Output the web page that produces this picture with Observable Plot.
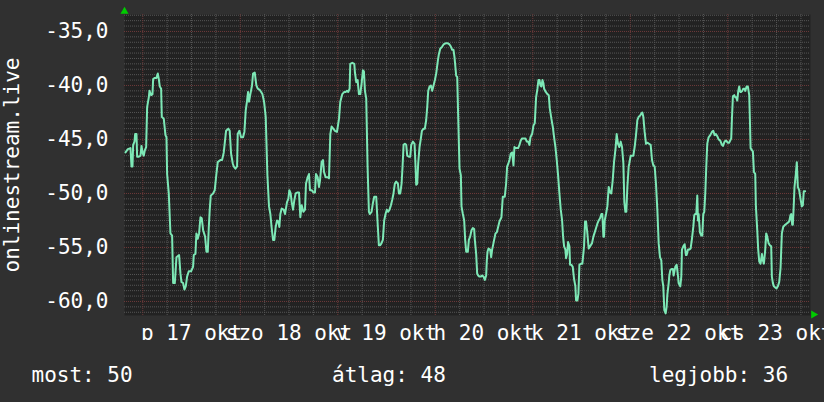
<!DOCTYPE html>
<html><head><meta charset="utf-8">
<script src="https://cdn.jsdelivr.net/npm/d3@7"></script>
<script src="https://cdn.jsdelivr.net/npm/@observablehq/plot@0.6"></script>
<style>
html,body{margin:0;padding:0;background:#303030;overflow:hidden;width:824px;height:402px}
#chart svg,#legend svg{display:block;overflow:hidden}
</style></head><body><div id="chart"></div><div id="legend"></div>
<script>
const yLabel = "onlinestream.live";
const dayTickHours = [12, 36, 60, 84, 108, 132, 156];
const dayTickLabels = ["p 17 okt", "szo 18 okt", "v 19 okt", "h 20 okt", "k 21 okt", "sze 22 okt", "cs 23 okt"];
const yTicks = [-60, -55, -50, -45, -40, -35];
const legendLabels = ["most", "átlag", "legjobb"];
const legendValues = [50, 48, 36];
// [hours since 17 okt 00:00, value]
const points = [
[-4.25,-46.2],[-3.68,-45.9],[-3.02,-45.8],[-2.78,-47.5],[-2.53,-47.5],[-2.37,-45.5],[-2.04,-45.2],[-1.88,-44.5],[-1.55,-44.5],[-1.39,-46.6],
[-0.98,-46.6],[-0.57,-46.5],[-0.32,-45.6],[0.01,-46.3],[0.25,-46.5],[0.5,-46.0],[0.83,-45.7],[1.07,-42.0],[1.48,-41.1],[1.65,-40.5],
[2.06,-40.9],[2.39,-40.8],[2.55,-39.4],[2.96,-39.3],[3.37,-39.3],[3.70,-38.9],[3.94,-39.4],[4.19,-40.1],[4.52,-40.3],[4.68,-42.9],
[5.17,-43.1],[5.58,-44.6],[5.83,-44.8],[5.99,-48.2],[6.40,-50.0],[6.81,-53.7],[7.22,-53.9],[7.47,-58.3],[7.88,-58.3],[8.04,-57.4],
[8.29,-55.9],[8.94,-55.7],[9.27,-57.4],[9.52,-58.2],[9.93,-58.3],[10.25,-58.9],[10.58,-58.6],[10.91,-57.7],[11.32,-57.2],[11.89,-57.2],
[12.38,-56.8],[12.55,-55.7],[12.96,-55.6],[13.20,-53.7],[13.53,-54.2],[13.86,-53.7],[14.19,-52.2],[14.52,-52.3],[14.85,-53.4],[15.34,-54.0],
[15.67,-55.4],[16.0,-55.4],[16.24,-53.2],[16.48,-51.5],[16.73,-50.2],[17.30,-50.0],[17.71,-49.7],[18.12,-48.2],[18.45,-47.1],[19.11,-46.9],
[19.52,-46.9],[19.93,-46.2],[20.5,-44.2],[21.07,-44.0],[21.4,-44.2],[21.73,-46.3],[22.14,-47.2],[22.39,-47.5],[22.80,-47.7],[23.21,-47.5],
[23.37,-44.5],[23.78,-44.2],[24.19,-44.8],[24.68,-44.8],[25.01,-44.3],[25.34,-42.3],[25.67,-41.4],[25.91,-40.6],[26.16,-41.5],[26.48,-40.8],
[26.89,-40.0],[27.14,-38.9],[27.55,-38.8],[27.96,-40.0],[28.29,-40.3],[28.78,-40.4],
[29.44,-40.8],[29.85,-41.5],[30.26,-42.9],[30.66,-48.2],[31.07,-51.2],[31.4,-51.9],[31.73,-53.2],[32.06,-54.3],[32.38,-54.3],[32.71,-53.1],
[33.04,-52.5],[33.37,-52.6],[33.61,-53.1],[33.86,-51.9],[34.19,-51.4],[34.68,-51.5],[35.01,-51.9],[35.5,-50.8],[35.83,-50.5],[36.07,-49.7],
[36.4,-50.0],[36.65,-50.8],[36.98,-51.5],[37.31,-50.6],[37.63,-50.0],[38.12,-49.9],[38.45,-49.9],[38.78,-52.2],[39.11,-51.1],[39.52,-51.7],
[39.93,-51.5],[40.17,-49.1],[40.58,-48.5],[40.91,-48.2],[41.16,-49.7],[41.57,-49.7],[41.98,-49.9],[42.39,-49.9],[42.63,-48.2],[43.04,-48.5],
[43.37,-49.4],[43.62,-48.8],[44.02,-47.1],[44.35,-46.9],[44.6,-48.0],[45.01,-48.5],[45.5,-48.5],[45.83,-48.6],[46.16,-44.5],[46.48,-43.8],
[46.89,-44.0],[47.3,-44.2],[47.8,-44.3],[48.29,-43.1],[48.62,-41.5],[49.11,-40.8],[49.6,-40.6],[49.93,-40.6],[50.25,-40.5],[50.58,-40.6],
[50.91,-40.3],[51.07,-38.0],[51.57,-37.9],[52.06,-38.0],[52.22,-38.8],[52.55,-39.7],[52.88,-39.5],[53.2,-40.8],[53.53,-40.8],[53.86,-39.8],
[54.19,-38.6],[54.43,-38.7],[54.68,-40.5],[55.0,-41.2],[55.33,-47.5],[55.66,-51.7],[55.9,-51.9],[56.31,-51.7],[56.64,-50.9],[56.97,-50.3],
[57.46,-50.3],[57.78,-52.6],[58.11,-54.8],[58.44,-54.8],[58.77,-54.6],[59.09,-54.3],[59.42,-52.5],[59.75,-51.9],[60.08,-51.5],[60.4,-51.7],
[60.73,-51.5],[61.07,-51.1],[61.39,-50.6],[61.71,-50.0],[62.04,-49.1],[62.37,-48.9],
[62.8,-49.1],[63.04,-50.0],[63.37,-50.0],[63.7,-49.1],[63.94,-47.5],[64.19,-45.5],[64.52,-45.4],[64.84,-45.5],[65.09,-46.5],[65.5,-46.6],
[65.83,-46.6],[66.07,-45.5],[66.48,-45.2],[66.89,-45.4],[67.14,-47.5],[67.3,-49.2],[67.55,-49.1],[67.79,-47.2],[68.12,-45.7],[68.45,-44.9],
[68.7,-44.2],[69.11,-44.0],[69.43,-44.0],[69.76,-43.2],[70.01,-42.0],[70.26,-40.5],[70.58,-40.1],[70.91,-40.0],[71.24,-40.5],[71.57,-40.0],
[71.9,-39.5],[72.22,-38.9],[72.63,-37.7],[72.88,-37.1],[73.21,-36.6],[73.7,-36.4],[74.03,-36.2],[74.52,-36.1],[75.09,-36.1],[75.5,-36.2],
[75.83,-36.4],[76.16,-36.7],[76.48,-36.7],[76.73,-37.4],[76.9,-38.1],[77.14,-39.1],[77.39,-39.2],[77.63,-42.8],[77.96,-47.7],[78.29,-48.3],
[78.45,-51.2],[78.78,-51.9],[79.11,-52.5],[79.35,-54.3],[79.6,-55.4],[80.01,-55.4],[80.26,-54.3],[80.58,-54.0],[80.91,-53.4],[81.24,-53.2],
[81.57,-53.3],[81.73,-54.3],[82.06,-55.6],[82.3,-57.4],[82.55,-57.6],[82.88,-57.7],[83.21,-57.7],[83.53,-57.6],[83.86,-57.7],[84.19,-58.0],
[84.52,-57.6],[84.68,-56.2],[84.85,-55.4],[85.09,-55.1],[85.5,-55.2],[85.75,-55.9],[85.99,-55.2],[86.16,-54.9],[86.48,-54.3],[86.81,-53.7],
[87.14,-53.6],[87.47,-53.1],[87.79,-52.6],[88.28,-52.2],[88.61,-50.3],[89.1,-50.3],[89.43,-49.1],[89.68,-47.5],[89.93,-47.3],[90.25,-46.9],
[90.58,-46.3],[90.91,-46.2],[91.24,-47.4],[91.48,-45.7],[91.73,-45.8],[92.06,-45.8],[92.39,-45.8],[92.71,-45.5],[93.04,-45.1],[93.37,-44.9],
[93.7,-44.9],[94.19,-44.9],[94.52,-45.2],[94.85,-45.2],[95.17,-45.5],[95.42,-44.8],[95.83,-44.5],[96.16,-43.7],[96.48,-43.5],[96.81,-41.1],
[97.14,-40.3],[97.39,-39.5],[97.63,-39.5],[97.88,-40.0],[98.12,-40.1],[98.37,-39.5],[98.62,-39.8],[98.78,-40.3],[99.19,-40.6],[99.6,-40.8],
[99.93,-40.9],[100.17,-42.1],[100.58,-43.1],[100.91,-43.8],[101.24,-44.8],[101.57,-45.7],[101.89,-46.9],[102.22,-48.3],[102.55,-50.0],[102.88,-51.5],
[103.21,-52.5],[103.45,-54.0],[103.7,-54.9],[104.02,-55.2],[104.19,-56.0],[104.43,-55.6],[104.68,-54.5],[105.01,-54.9],[105.17,-56.6],[105.5,-56.6],
[105.83,-56.8],[106.15,-57.9],[106.48,-58.6],[106.65,-59.9],[106.98,-59.9],[107.22,-59.3],[107.47,-56.6],[107.79,-56.5],[108.2,-56.5],[108.61,-54.9],
[108.86,-52.6],[109.11,-52.6],[109.43,-53.7],[109.76,-55.1],[110.09,-54.9],[110.58,-54.6],[110.91,-54.0],[111.24,-53.6],[111.57,-53.2],[111.89,-52.8],
[112.22,-52.5],[112.55,-52.3],[112.88,-51.9],[113.12,-51.9],[113.37,-54.0],[113.53,-54.0],[113.7,-52.5],[114.02,-51.9],[114.35,-51.2],[114.68,-49.4],
[115.0,-49.9],[115.33,-50.0],[115.66,-48.8],[115.99,-47.1],[116.4,-45.7],[116.64,-44.5],[116.97,-45.4],[117.3,-45.7],[117.63,-45.2],[117.96,-45.7],
[118.29,-47.2],[118.53,-50.8],[118.78,-51.7],[119.02,-51.7],[119.27,-49.4],[119.6,-47.5],[119.76,-47.2],[120.09,-46.5],[120.42,-46.5],[120.75,-46.5],
[121.07,-45.7],[121.4,-44.6],[121.73,-43.2],[122.06,-42.9],[122.39,-42.8],[122.71,-42.6],[122.96,-42.5],[123.2,-42.9],[123.53,-44.3],[123.86,-45.4],
[124.19,-45.3],[124.6,-45.4],[125.01,-45.5],[125.34,-46.9],[125.66,-47.4],[125.99,-47.5],[126.32,-49.1],[126.65,-51.5],[126.98,-54.6],[127.3,-55.9],
[127.63,-56.2],[127.88,-58.0],[128.12,-58.6],[128.37,-60.8],[128.7,-61.1],[128.94,-60.5],[129.11,-59.4],[129.44,-58.3],[129.6,-57.6],[129.85,-57.1],
[130.17,-57.0],[130.5,-57.0],
[130.66,-57.6],[131.07,-56.8],[131.4,-56.6],[131.73,-57.6],[131.89,-58.3],[132.3,-58.6],[132.55,-57.7],[132.71,-55.2],[133.04,-54.9],[133.37,-54.7],
[133.7,-55.7],[133.86,-55.7],[134.19,-55.2],[134.52,-55.2],[134.84,-55.1],[135.17,-54.2],[135.5,-53.1],[135.75,-52.0],[135.99,-51.9],[136.24,-51.9],
[136.48,-50.2],[136.65,-52.5],[136.81,-51.9],[137.14,-53.6],[137.47,-53.9],[137.71,-53.9],[137.96,-51.9],[138.2,-51.7],[138.45,-50.0],[138.7,-47.5],
[138.94,-45.4],[139.27,-44.8],[139.68,-44.6],[140.09,-44.3],[140.42,-44.2],[140.75,-44.6],[141.07,-44.5],[141.4,-44.7],[141.73,-45.0],[142.14,-45.1],
[142.55,-45.5],[142.8,-45.6],[143.2,-45.2],[143.53,-45.1],[144.02,-45.3],[144.35,-45.3],[144.84,-44.9],[145.01,-43.1],[145.25,-41.0],[145.58,-40.9],
[145.83,-41.1],[146.07,-41.1],[146.32,-41.4],[146.57,-40.5],[146.81,-40.1],[147.06,-40.6],[147.3,-40.6],[147.55,-40.5],[147.8,-40.3],[148.12,-40.3],
[148.29,-40.5],[148.62,-40.1],[148.94,-40.1],[149.27,-40.9],[149.43,-43.1],[149.6,-45.8],[149.93,-46.0],[150.17,-46.1],[150.42,-48.0],[150.75,-48.2],
[150.91,-51.2],[151.24,-53.4],[151.48,-55.2],[151.73,-56.3],[152.06,-56.5],[152.39,-55.6],[152.63,-56.2],[152.88,-56.5],[153.21,-55.2],[153.45,-53.7],
[153.7,-54.0],[154.02,-54.6],[154.35,-54.8],[154.68,-54.9],[154.84,-57.7],[155.09,-58.3],[155.34,-58.6],[155.66,-58.7],[155.99,-58.8],[156.32,-58.6],
[156.65,-58.2],[156.98,-56.9],[157.3,-53.7],[157.63,-53.1],[158.12,-52.9],[158.45,-52.8],[158.78,-52.7],[159.11,-52.6],[159.43,-52.0],[159.6,-51.9],
[159.84,-52.9],[160.0,-52.9],[160.25,-50.9],[160.41,-49.4],[160.74,-48.2],[160.98,-47.1],[161.23,-49.4],[161.56,-49.7],[161.89,-50.5],[162.21,-51.2],
[162.46,-51.1],[162.7,-49.8],[163.04,-49.8]
];

const data = points.map(([h, v]) => ({h, v}));
const minorY = d3.range(-61, -33.4, 0.5).filter(v => v % 5 !== 0);
const minorX = d3.range(-0, 165, 6).filter(h => h % 24 !== 0);
const majorX = d3.range(0, 165, 24);
const gridMinor = {stroke: "#565656", strokeOpacity: 1, strokeDasharray: "1,1"};
const gridMajor = {stroke: "#6e3a3a", strokeOpacity: 1, strokeDasharray: "1,1"};
const font = "'DejaVu Sans Mono', monospace";

const chart = Plot.plot({
  width: 824, height: 340,
  marginLeft: 124, marginRight: 14, marginTop: 14, marginBottom: 25,
  style: {background: "transparent", color: "#ffffff", fontFamily: font, fontSize: "21px"},
  x: {type: "linear", domain: [-4.5, 164.35]},
  y: {domain: [-61.3, -33.43]},
  marks: [
    Plot.frame({fill: "#222222", stroke: null}),
    Plot.gridY(minorY, gridMinor),
    Plot.gridX(minorX, gridMinor),
    Plot.gridY(yTicks, gridMajor),
    Plot.gridX(majorX, gridMajor),
    Plot.axisY(yTicks, {tickSize: 0, tickPadding: 16, tickFormat: d => d.toFixed(1).replace(".", ","), label: null, fontSize: 21}),
    Plot.axisX(dayTickHours, {tickSize: 0, tickPadding: 10, tickFormat: d => dayTickLabels[dayTickHours.indexOf(d)], label: null, fontSize: 21}),
    Plot.line(data, {x: "h", y: "v", stroke: "#7de8b6", strokeWidth: 2}),
    Plot.text([yLabel], {frameAnchor: "left", text: d => d, rotate: -90, dx: -105.5, lineAnchor: "bottom", textAnchor: "middle", fill: "#ffffff", fontSize: 21}),
    Plot.dot([0], {frameAnchor: "top-left", symbol: "triangle", r: 3, fill: "#00cc00", stroke: null, dy: -3}),
    Plot.dot([0], {frameAnchor: "bottom-right", symbol: "triangle", rotate: 90, r: 3, fill: "#00cc00", stroke: null, dx: 3, dy: -1})
  ]
});
document.getElementById("chart").append(chart);

const legendX = [31.5, 332, 649];
const lsvg = d3.select("#legend").append("svg").attr("width", 824).attr("height", 62);
legendLabels.forEach((lab, i) => {
  lsvg.append("text")
    .attr("x", legendX[i]).attr("y", 41.7)
    .attr("fill", "#ffffff").attr("font-family", font).attr("font-size", 21)
    .text(`${lab}: ${legendValues[i]}`);
});
</script></body></html>
